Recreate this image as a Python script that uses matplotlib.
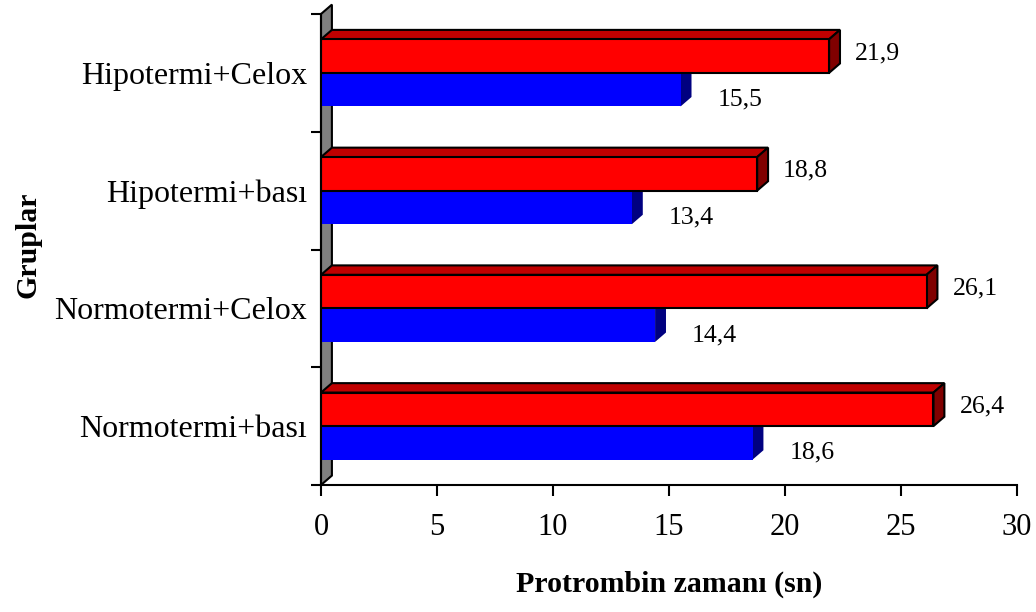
import numpy as np
import matplotlib
matplotlib.use("Agg")
import matplotlib.pyplot as plt
from matplotlib.patches import Polygon

plt.rcParams['font.family'] = ['Liberation Serif', 'DejaVu Serif']

# data (bottom to top, as drawn)
groups = ['Normotermi+bası', 'Normotermi+Celox', 'Hipotermi+bası', 'Hipotermi+Celox']
red_vals = [26.4, 26.1, 18.8, 21.9]
blue_vals = [18.6, 14.4, 13.4, 15.5]
x_ticks = [0, 5, 10, 15, 20, 25, 30]

# 3d look
DX = 0.47    # depth offset in x units
DY = 0.08    # depth offset in category units
BAR_H = 0.285


def fmt(v):
    return f"{v:.1f}".replace('.', ',')


def draw_depth(ax, y0, vals, top_col, side_col, edge, lw, z):
    """Top and right faces of the 3D bars."""
    for i, v in enumerate(vals):
        b = i + y0
        t = b + BAR_H
        top = Polygon([(0, t), (v, t), (v + DX, t + DY), (DX, t + DY)],
                      closed=True, fc=top_col, ec=edge, lw=lw, zorder=z,
                      joinstyle='miter')
        side = Polygon([(v, b), (v + DX, b + DY), (v + DX, t + DY), (v, t)],
                       closed=True, fc=side_col, ec=edge, lw=lw, zorder=z,
                       joinstyle='miter')
        ax.add_patch(top)
        ax.add_patch(side)


def plot_chart(output_path):
    fig = plt.figure(figsize=(10.36, 6.12), dpi=100)
    ax = fig.add_axes([321 / 1036, 1 - 485 / 612, 696 / 1036, 471 / 612])
    ax.set_xlim(0, 30)
    ax.set_ylim(-0.5, len(groups) - 0.5)

    y = np.arange(len(groups))

    # back wall
    y_lo, y_hi = -0.5, len(groups) - 0.5
    wall = Polygon([(0, y_lo), (DX, y_lo + DY), (DX, y_hi + DY), (0, y_hi)],
                   closed=True, fc='#808080', ec='black', lw=1.5, zorder=1,
                   clip_on=False)
    ax.add_patch(wall)

    # blue series (lower bar in each group)
    draw_depth(ax, -BAR_H, blue_vals, '#0000C0', '#000080', 'none', 0, 2)
    ax.barh(y - BAR_H, blue_vals, height=BAR_H, align='edge',
            color='#0000FF', edgecolor='none', zorder=2.5)

    # red series (upper bar)
    draw_depth(ax, 0, red_vals, '#C00000', '#800000', 'black', 1.5, 3)
    ax.barh(y, red_vals, height=BAR_H, align='edge', color='#FF0000',
            edgecolor='black', linewidth=1.5, zorder=3.5)

    # value labels
    for i, v in enumerate(red_vals):
        ax.annotate(fmt(v), (v, i + BAR_H / 2), xytext=(26, 3),
                    textcoords='offset pixels', ha='left', va='center',
                    fontsize=18.5, annotation_clip=False)
    for i, v in enumerate(blue_vals):
        ax.annotate(fmt(v), (v, i - BAR_H / 2), xytext=(37, -10),
                    textcoords='offset pixels', ha='left', va='center',
                    fontsize=18.5, annotation_clip=False)

    # axes styling
    for s in ['top', 'right']:
        ax.spines[s].set_visible(False)
    ax.spines['left'].set_linewidth(1.5)
    ax.spines['bottom'].set_linewidth(1.5)
    ax.spines['left'].set_zorder(5)

    ax.set_xticks(x_ticks)
    ax.set_xticklabels([str(t) for t in x_ticks])
    ax.tick_params(axis='x', length=8, width=1.5, pad=12, labelsize=22)

    ax.set_yticks(np.arange(len(groups) + 1) - 0.5)
    ax.set_yticklabels([])
    ax.set_yticks(y, minor=True)
    ax.set_yticklabels(groups, minor=True)
    ax.tick_params(axis='y', which='major', length=7.5, width=1.5)
    ax.tick_params(axis='y', which='minor', length=0, pad=10, labelsize=23)

    ax.set_xlabel('Protrombin zamanı (sn)', fontsize=21.5, fontweight='bold',
                  labelpad=21)
    fig.text(28 / 1036, 1 - 245 / 612, 'Gruplar', rotation=90, ha='center',
             va='center', fontsize=21.5, fontweight='bold')

    fig.savefig(output_path, dpi=100)


if __name__ == "__main__":
    plot_chart("out.png")
